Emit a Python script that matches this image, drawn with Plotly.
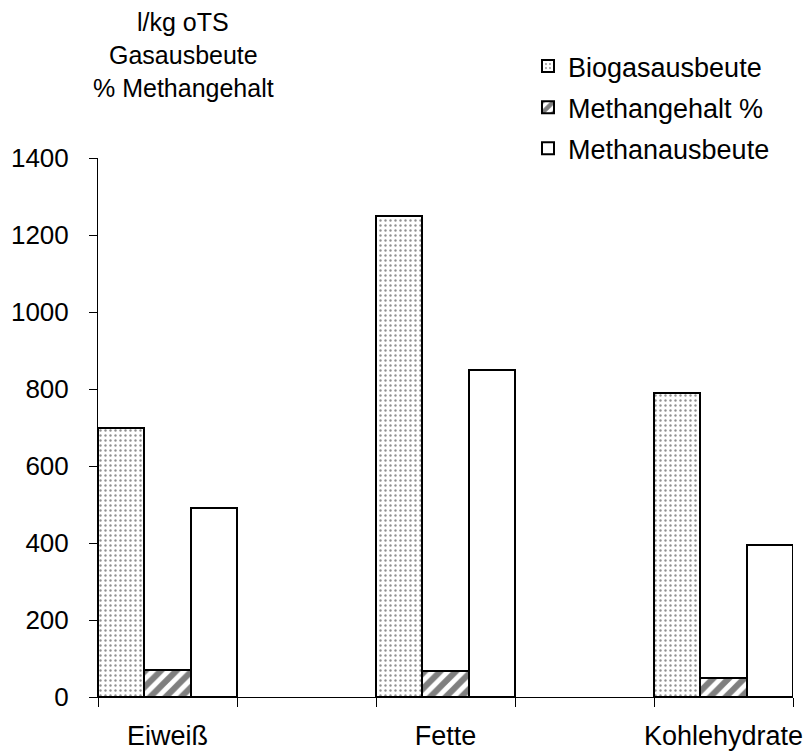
import plotly.graph_objects as go

# Substrate groups and yields
categories = ["Eiweiß", "Fette", "Kohlehydrate"]
biogasausbeute = [700, 1250, 790]      # l/kg oTS
methangehalt = [71, 68, 50]            # %
methanausbeute = [490, 850, 395]       # l/kg oTS

# empty spacer slots between the substrate groups on the category axis
spacers = [" ", "  "]
axis_order = [categories[0], spacers[0], categories[1], spacers[1], categories[2]]

y_ticks = [0, 200, 400, 600, 800, 1000, 1200, 1400]

FONT = "Arial, Liberation Sans, sans-serif"
OUTLINE = dict(color="black", width=2)

fig = go.Figure()
fig.add_trace(go.Bar(
    name="Biogasausbeute", x=categories, y=biogasausbeute, legendgroup="a",
    marker=dict(color="white", line=OUTLINE,
                pattern=dict(shape=".", size=5, solidity=0.18, fgcolor="#222", bgcolor="white")),
))
fig.add_trace(go.Bar(
    name="Methangehalt %", x=categories, y=methangehalt, legendgroup="b",
    marker=dict(color="white", line=OUTLINE,
                pattern=dict(shape="/", size=11, solidity=0.55, fgcolor="black", bgcolor="white")),
))
fig.add_trace(go.Bar(
    name="Methanausbeute", x=categories, y=methanausbeute, legendgroup="c",
    marker=dict(color="white", line=OUTLINE),
))

fig.update_layout(
    width=812, height=753, autosize=False,
    margin=dict(l=98, r=19, t=158, b=56, autoexpand=False),
    paper_bgcolor="white", plot_bgcolor="white",
    barmode="group", bargap=0, bargroupgap=0,
    font=dict(family=FONT, size=26, color="black"),
    showlegend=True,
    legend=dict(
        xref="container", yref="container",
        x=528 / 812, y=1 - 42 / 753, xanchor="left", yanchor="top",
        font=dict(family=FONT, size=27, color="black"),
        tracegroupgap=3, bgcolor="rgba(0,0,0,0)",
    ),
    xaxis=dict(
        type="category", categoryorder="array", categoryarray=axis_order,
        tickson="boundaries", ticks="outside", ticklen=9, tickcolor="black", tickwidth=1,
        showline=True, linecolor="black", linewidth=1, showgrid=False,
        tickangle=0, automargin=False,
        tickfont=dict(family=FONT, size=27), ticklabelstandoff=15,
    ),
    yaxis=dict(
        range=[0, 1400], tickvals=y_ticks, ticks="outside", ticklen=8,
        tickcolor="black", tickwidth=1, automargin=False,
        showline=True, linecolor="black", linewidth=1, showgrid=False, zeroline=False,
        tickfont=dict(family=FONT, size=26), ticklabelstandoff=15,
    ),
)

# axis caption above the value axis
caption = ["l/kg oTS", "Gasausbeute", "% Methangehalt"]
caption_y = [22, 55, 88]
for text, ypx in zip(caption, caption_y):
    fig.add_annotation(
        text=text, xref="paper", yref="paper",
        x=(183 - 98) / (812 - 98 - 19), y=1 + (158 - ypx) / (753 - 158 - 56),
        xanchor="center", yanchor="middle", showarrow=False,
        font=dict(family=FONT, size=25, color="black"),
    )

fig.write_html("out.html")
